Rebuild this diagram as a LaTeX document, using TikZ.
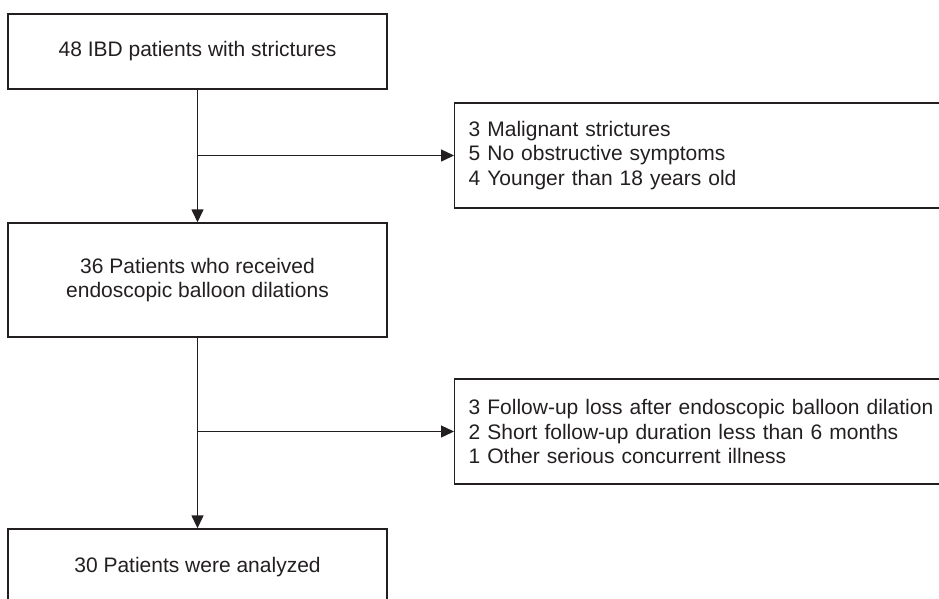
\documentclass[tikz,border=0pt]{standalone}
\usepackage{fontspec}
\setmainfont{Liberation Sans}
\usetikzlibrary{arrows.meta,calc}

\begin{document}
\begin{tikzpicture}[x=1pt, y=-1pt, >={Triangle[length=13pt,width=12pt]},
  line width=1.4pt, color={rgb,255:red,35;green,31;blue,32},
  font=\fontsize{21}{24.5}\selectfont,
  box/.style={draw, minimum width=379pt, align=center, inner sep=0pt},
  sidebox/.style={draw, anchor=west, text width=520pt, align=left,
    inner xsep=14pt, minimum height=105pt}]
\useasboundingbox (0,0) rectangle (939,598);
\clip (0,0) rectangle (939,598);

\node[box, minimum height=75pt] (start) at (197.5,51.5) {48 IBD patients with strictures};
\node[box, minimum height=114pt] (dilated) at (197.5,280) {36 Patients who received\\endoscopic balloon dilations};
\node[box, minimum height=76pt] (final) at (197.5,567) {30 Patients were analyzed};

\node[sidebox] (excl1) at (454,155.5) {3 Malignant strictures\\5 No obstructive symptoms\\4 Younger than 18 years old};
\node[sidebox] (excl2) at (454,431.5) {3 Follow-up loss after endoscopic balloon dilation\\2 Short follow-up duration less than 6 months\\1 Other serious concurrent illness};

\draw[->] (start) -- (dilated);
\draw[->] (dilated) -- (final);
\draw[->] (start.south |- excl1.west) -- (excl1.west);
\draw[->] (dilated.south |- excl2.west) -- (excl2.west);
\end{tikzpicture}
\end{document}
